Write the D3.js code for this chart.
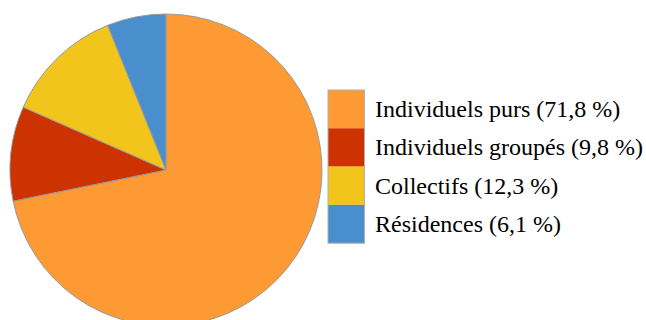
<!DOCTYPE html>
<html><head><meta charset="utf-8">
<script src="https://cdn.jsdelivr.net/npm/d3@7"></script>
</head><body style="margin:0;padding:0;">
<div id="wrap" style="position:relative;width:646px;height:320px;">
<svg id="c" width="646" height="320" style="position:absolute;left:0;top:0;display:block;"></svg>
</div>
<script>
const categories = ["Individuels purs", "Individuels groupés", "Collectifs", "Résidences"];
const values = [71.8, 9.8, 12.3, 6.1];
const labels = ["Individuels purs (71,8 %)", "Individuels groupés (9,8 %)", "Collectifs (12,3 %)", "Résidences (6,1 %)"];
const colors = ["#fd9a33", "#cc3300", "#f2c51d", "#4a8fcd"];

const svg = d3.select("#c");
const cx = 166, cy = 170, r = 156;
const data = categories.map((c, i) => ({c, v: values[i], i}));
const lx = 328, ly = 90, bw = 36.5, bh = 38.3;
const y = d3.scaleBand().domain(categories).range([ly, ly + bh * categories.length]).padding(0);

// legend labels as positioned text (drawn first)
d3.select("#wrap").selectAll("div.lbl").data(data).join("div")
  .attr("class", "lbl")
  .style("position", "absolute")
  .style("left", "375px")
  .style("top", d => (y(d.c) + y.bandwidth() / 2 - 14) + "px")
  .style("height", "28px")
  .style("line-height", "28px")
  .style("white-space", "nowrap")
  .style("font-family", '"Liberation Serif"')
  .style("font-size", "24px")
  .style("color", "#000")
  .text(d => labels[d.i]);

const pie = d3.pie().value(d => d.v).sort(null);
const arc = d3.arc().innerRadius(0).outerRadius(r);
const g = svg.append("g").attr("transform", `translate(${cx},${cy})`);
g.selectAll("path").data(pie(data)).join("path")
  .attr("d", arc)
  .attr("fill", d => colors[d.data.i])
  .attr("stroke", "#9a9a9a")
  .attr("stroke-width", 1);

const leg = svg.append("g");
leg.selectAll("rect").data(data).join("rect")
  .attr("x", lx).attr("y", d => y(d.c)).attr("width", bw).attr("height", y.bandwidth())
  .attr("fill", d => colors[d.i]);
leg.append("rect").attr("x", lx).attr("y", ly).attr("width", bw).attr("height", bh * categories.length)
  .attr("fill", "none").attr("stroke", "#b0b0b0").attr("stroke-width", 1);
</script>
</body></html>
